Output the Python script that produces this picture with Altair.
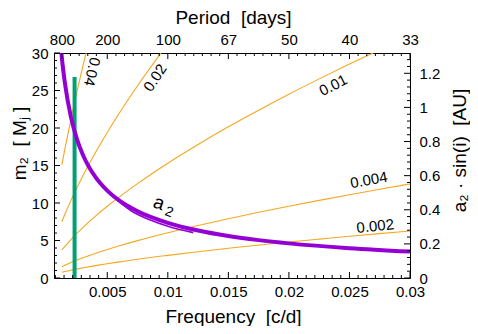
import altair as alt
import pandas as pd

# ---------------- data ----------------
freq = [0.00125, 0.0015, 0.002, 0.0025, 0.003, 0.004, 0.005, 0.006, 0.0075,
        0.01, 0.0125, 0.015, 0.0175, 0.02, 0.0225, 0.025, 0.0275, 0.03]
m2_amp_0002 = [0.76, 0.86, 1.04, 1.20, 1.36, 1.65, 1.91, 2.15, 2.50, 3.02,
               3.51, 3.96, 4.38, 4.79, 5.18, 5.56, 5.92, 6.27]
m2_amp_0004 = [1.51, 1.70, 2.06, 2.40, 2.71, 3.28, 3.80, 4.29, 4.98, 6.03,
               7.00, 7.90, 8.76, 9.57, 10.35, 11.10, 11.83, 12.54]
m2_amp_001 = [3.73, 4.22, 5.13, 5.97, 6.76, 8.22, 9.56, 10.82, 12.59, 15.31,
              17.81, 20.16, 22.38, 24.51, 26.55, 28.52, 30.42, 32.27]
m2_amp_002 = [7.5, 8.50, 10.35, 12.07, 13.67, 16.66, 19.41, 22.00, 25.64, 31.23]
m2_amp_004 = [15.1, 17.22, 21.18, 24.87, 28.36, 34.89]
amp_names = ["0.002", "0.004", "0.01", "0.02", "0.04"]

a2_freq = [0.0011, 0.00125, 0.0015, 0.002, 0.0025, 0.003, 0.004, 0.005, 0.006,
           0.0075, 0.01, 0.0125, 0.015, 0.0175, 0.02, 0.025, 0.03]
a2_au = [1.405, 1.290, 1.143, 0.943, 0.813, 0.720, 0.594, 0.512, 0.453,
         0.391, 0.323, 0.278, 0.246, 0.222, 0.203, 0.175, 0.155]
a2b_freq = [0.0052, 0.007, 0.0085, 0.01, 0.0121]
a2b_au = [0.493, 0.393, 0.341, 0.303, 0.266]

green_freq = [0.0023]
green_top = [26.8]

curve_label_text = ["0.04", "0.02", "0.01", "0.004", "0.002"]
curve_label_freq = [0.00374, 0.00895, 0.02366, 0.0266, 0.02713]
curve_label_m2 = [27.5, 26.7, 25.7, 13.07, 6.93]
curve_label_angle = [103, 303, 333, 350, 354]

# "a" with a subscript "2"
a2_label_text = ["a", "2"]
a2_label_freq = [0.00928, 0.0101]
a2_label_au = [0.44, 0.385]
a2_label_size = [19, 14]
a2_label_angle = [20, 20]

bottom_ticks = [0.005, 0.01, 0.015, 0.02, 0.025, 0.03]
bottom_minor = [round(k * 0.005 / 7, 6) for k in range(1, 43) if k % 7 != 0]
top_ticks = [0.00125, 0.005, 0.01, 0.015, 0.02, 0.025, 0.03]
top_minor = [0.00196, 0.00268, 0.00339, 0.0041] + [v for v in bottom_minor if v > 0.005]
left_ticks = [0, 5, 10, 15, 20, 25, 30]
left_minor = [v for v in range(0, 31) if v % 5 != 0]
right_ticks = [0, 0.2, 0.4, 0.6, 0.8, 1, 1.2]
right_minor = [round(k * 0.04, 2) for k in range(1, 33) if k % 5 != 0]

# ---------------- geometry / style ----------------
W, H = 356, 225
F_DOM = [0.0006, 0.03]
M_DOM = [0, 30]
AU_DOM = [0, 1.319]
FONT = "Liberation Sans"
ORANGE = "#f3a81f"
PURPLE = "#9400d3"
GREEN = "#00a074"
NB = "\u00a0"

xs = alt.Scale(domain=F_DOM, nice=False, zero=False)
ys = alt.Scale(domain=M_DOM, nice=False, zero=False)
ya = alt.Scale(domain=AU_DOM, nice=False, zero=False)

common_axis = dict(ticks=False, tickSize=0, grid=False, domain=True,
                   labelFlush=False, labelOverlap=False)

bottom_axis = alt.Axis(orient="bottom", values=bottom_ticks, format="~g",
                       title="Frequency" + NB + NB + "[c/d]", labelPadding=6,
                       titleX=179, titleY=38, titleAlign="center",
                       titleBaseline="middle", **common_axis)
left_axis = alt.Axis(orient="left", values=left_ticks, format="d",
                     title="m\u2082" + NB + NB + "[" + NB + "M\u2c7c" + NB + "]",
                     labelPadding=6,
                     titleAngle=270, titleX=-35, titleY=90, titleAlign="center",
                     titleBaseline="middle", **common_axis)
top_axis = alt.Axis(orient="top", values=top_ticks,
                    labelExpr="format(1/datum.value, '.0f')",
                    title="Period" + NB + NB + "[days]", labelPadding=6,
                    titleX=179, titleY=-36, titleAlign="center",
                    titleBaseline="middle", **common_axis)
right_axis = alt.Axis(orient="right", values=right_ticks, format="~g",
                      title="a\u2082" + NB + "\u00b7" + NB + "sin(i)" + NB + NB + "[AU]",
                      labelPadding=9,
                      titleAngle=270, titleX=49, titleY=97, titleAlign="center",
                      titleBaseline="middle", **common_axis)

# ---------------- tables ----------------
rows = []
for name, vals in zip(amp_names, [m2_amp_0002, m2_amp_0004, m2_amp_001, m2_amp_002, m2_amp_004]):
    for f, m in zip(freq, vals):
        rows.append({"f": f, "m2": m, "curve": name})
orange_df = pd.DataFrame(rows)
a2_df = pd.DataFrame({"f": a2_freq, "au": a2_au})
a2b_df = pd.DataFrame({"f": a2b_freq, "au": a2b_au})
green_df = pd.DataFrame({"f": green_freq, "lo": [0] * len(green_freq), "hi": green_top})
clab_df = pd.DataFrame({"f": curve_label_freq, "m2": curve_label_m2,
                        "t": curve_label_text, "ang": curve_label_angle})
alab_df = pd.DataFrame({"f": a2_label_freq, "au": a2_label_au, "t": a2_label_text,
                        "fs": a2_label_size, "ang": a2_label_angle})

orange = alt.Chart(orange_df).mark_line(
    color=ORANGE, strokeWidth=1.1, clip=True, interpolate="monotone"
).encode(
    x=alt.X("f:Q", scale=xs, axis=bottom_axis),
    y=alt.Y("m2:Q", scale=ys, axis=left_axis),
    detail="curve:N",
)

green = alt.Chart(green_df).mark_rule(color=GREEN, strokeWidth=4).encode(
    x=alt.X("f:Q", scale=xs, axis=None),
    y=alt.Y("lo:Q", scale=ys, axis=None),
    y2="hi:Q",
)

purple = alt.Chart(a2_df).mark_line(
    color=PURPLE, strokeWidth=4, clip=True, interpolate="monotone"
).encode(
    x=alt.X("f:Q", scale=xs, axis=top_axis),
    y=alt.Y("au:Q", scale=ya, axis=right_axis),
)

purple2 = alt.Chart(a2b_df).mark_line(
    color=PURPLE, strokeWidth=1.6, clip=True, interpolate="monotone"
).encode(
    x=alt.X("f:Q", scale=xs, axis=None),
    y=alt.Y("au:Q", scale=ya, axis=None),
)

clabels = alt.Chart(clab_df).mark_text(
    font=FONT, fontSize=15, color="black", align="center", baseline="middle"
).encode(
    x=alt.X("f:Q", scale=xs, axis=None),
    y=alt.Y("m2:Q", scale=ys, axis=None),
    text="t:N",
    angle=alt.Angle("ang:Q", scale=None),
)

alabels = alt.Chart(alab_df).mark_text(
    font=FONT, color="black", align="center", baseline="middle"
).encode(
    x=alt.X("f:Q", scale=xs, axis=None),
    y=alt.Y("au:Q", scale=ya, axis=None),
    text="t:N",
    size=alt.Size("fs:Q", scale=None),
    angle=alt.Angle("ang:Q", scale=None),
)


def xticks(values, y0, y1):
    return alt.Chart(pd.DataFrame({"v": values})).mark_rule(color="black", strokeWidth=1).encode(
        x=alt.X("v:Q", scale=xs, axis=None), y=alt.value(y0), y2=alt.value(y1))


def yticks(values, scale, x0, x1):
    return alt.Chart(pd.DataFrame({"v": values})).mark_rule(color="black", strokeWidth=1).encode(
        y=alt.Y("v:Q", scale=scale, axis=None), x=alt.value(x0), x2=alt.value(x1))


tick_layers = [
    xticks(bottom_ticks, H, H - 6), xticks(bottom_minor, H, H - 3),
    xticks(top_ticks, 0, 6), xticks(top_minor, 0, 3),
    yticks(left_ticks, ys, 0, 6), yticks(left_minor, ys, 0, 3),
    yticks(right_ticks, ya, W, W - 6), yticks(right_minor, ya, W, W - 3),
]

chart = alt.layer(
    orange, green, purple, purple2, clabels, alabels, *tick_layers
).resolve_scale(
    x="independent", y="independent"
).properties(
    width=W, height=H,
    autosize=alt.AutoSizeParams(type="none"),
    padding={"left": 46, "top": 45, "right": 60, "bottom": 48},
).configure_view(
    stroke=None
).configure_axis(
    labelFont=FONT, labelFontSize=15, labelColor="black",
    titleFont=FONT, titleFontSize=19, titleFontWeight="normal", titleColor="black",
    domainColor="black", domainWidth=1,
)

chart.save("out.html", embed_options={"renderer": "svg", "actions": False})
